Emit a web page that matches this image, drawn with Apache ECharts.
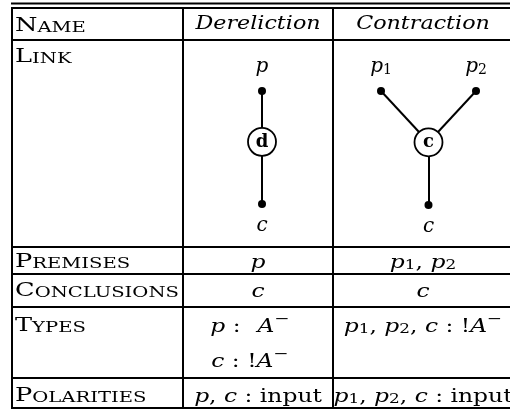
<!DOCTYPE html>
<html>
<head>
<meta charset="utf-8">
<script src="https://cdn.jsdelivr.net/npm/echarts@6/dist/echarts.min.js"></script>
<style>
  html, body { margin: 0; padding: 0; background: #fff; }
  #chart { width: 510px; height: 410px; }
</style>
</head>
<body>
<div id="chart"></div>
<script>
// table contents
const rowNames = ['Name', 'Link', 'Premises', 'Conclusions', 'Types', 'Polarities']
const ruleNames = ['Dereliction', 'Contraction']
// cell text, one entry per line, math as rich-text tokens
const premisesCells = [['{m|p}'], ['{m|p}{sub|1}{r|, }{m|p}{sub|2}']]
const conclusionsCells = [['{m|c}'], ['{m|c}']]
const typesCells = [
  ['{m|p}{r| : }{ph|!}{m|A}{sup|−}', '{m|c}{r| : !}{m|A}{sup|−}'],
  ['{m|p}{sub|1}{r|, }{m|p}{sub|2}{r|, }{m|c}{r| : !}{m|A}{sup|−}'],
]
const polaritiesCells = [
  ['{m|p}{r|, }{m|c}{r| : input}'],
  ['{m|p}{sub|1}{r|, }{m|p}{sub|2}{r|, }{m|c}{r| : input}'],
]

// link diagrams: [id, kind, x, y, label, label side] in diagram units
const derelNodes = [
  ['p', 'port', 0, 3, '{lm|p}', 'top'],
  ['d', 'cell', 0, 1.65, '{b|d}', 'inside'],
  ['c', 'port', 0, 0, '{lm|c}', 'bottom'],
]
const derelLinks = [['p', 'd'], ['d', 'c']]
const contrNodes = [
  ['p1', 'port', -1, 3, '{lm|p}{lsub|1}', 'top'],
  ['p2', 'port', 1, 3, '{lm|p}{lsub|2}', 'top'],
  ['k', 'cell', 0, 1.65, '{b|c}', 'inside'],
  ['c', 'port', 0, 0, '{lm|c}', 'bottom'],
]
const contrLinks = [['p1', 'k'], ['p2', 'k'], ['k', 'c']]

// layout of the table (page units)
const colEdges = [12, 183, 333, 511]
const rowEdges = [8, 40, 247, 274, 307, 378, 408]
const textY = [24, 55, 260, 289, 324, 394]
const typesLineGap = 35
const colCenters = [258, 423]
const derelTypesX = 250
// the source picture is stretched sideways, so the text is too
const labelStretch = 1.35
const headStretch = 1.17
const mathStretch = 1.3

const serif = '"DejaVu Serif", "Liberation Serif", serif'
const clear = 'rgba(0,0,0,0)'
const rich = {
  m: { fontFamily: serif, fontStyle: 'italic', fontSize: 18, lineHeight: 24, verticalAlign: 'bottom' },
  r: { fontFamily: serif, fontSize: 18, lineHeight: 24, verticalAlign: 'bottom' },
  ph: { fontFamily: serif, fontSize: 18, lineHeight: 24, verticalAlign: 'bottom', fill: clear, color: clear },
  sub: { fontFamily: serif, fontSize: 13, lineHeight: 15, verticalAlign: 'bottom' },
  sup: { fontFamily: serif, fontSize: 14, lineHeight: 12, verticalAlign: 'top' },
  lm: { fontFamily: serif, fontStyle: 'italic', fontSize: 20, lineHeight: 24, verticalAlign: 'bottom' },
  lsub: { fontFamily: serif, fontSize: 14, lineHeight: 15, verticalAlign: 'bottom' },
  h: { fontFamily: serif, fontStyle: 'italic', fontSize: 19, lineHeight: 24 },
  sc1: { fontFamily: serif, fontSize: 19, lineHeight: 24, verticalAlign: 'bottom' },
  sc2: { fontFamily: serif, fontSize: 14.5, lineHeight: 21, verticalAlign: 'bottom' },
  b: { fontFamily: serif, fontWeight: 'bold', fontSize: 18 },
}
const smallCaps = s => '{sc1|' + s[0] + '}{sc2|' + s.slice(1).toUpperCase() + '}'

const cellTexts = [
  ruleNames.map(n => ['{h|' + n + '}']),
  null,
  premisesCells,
  conclusionsCells,
  typesCells,
  polaritiesCells,
]

const chart = echarts.init(document.getElementById('chart'))

function nodeItem(n) {
  const [id, kind, x, y, label, side] = n
  const port = kind === 'port'
  return {
    name: id,
    value: [x, y],
    symbol: 'circle',
    symbolSize: port ? 8 : 28,
    itemStyle: port
      ? { color: '#000' }
      : { color: '#fff', borderColor: '#000', borderWidth: 1.8 },
    label: {
      show: true,
      formatter: label,
      position: side,
      distance: side === 'top' ? 10 : 4,
      color: '#000',
      rich: rich,
    },
  }
}

function diagram(nodes, links, axis) {
  return {
    type: 'graph',
    coordinateSystem: 'cartesian2d',
    xAxisIndex: axis,
    yAxisIndex: axis,
    silent: true,
    data: nodes.map(nodeItem),
    links: links.map(([s, t]) => ({ source: s, target: t })),
    lineStyle: { color: '#000', width: 2, opacity: 1 },
  }
}

function renderRow(params, api) {
  const i = api.value(0)
  const pt = (x, y) => api.coord([x, y])
  const children = []
  const line = (x1, y1, x2, y2) => {
    const a = pt(x1, y1)
    const b = pt(x2, y2)
    children.push({
      type: 'line',
      shape: { x1: a[0], y1: a[1], x2: b[0], y2: b[1] },
      style: { stroke: '#000', lineWidth: 2 },
    })
  }
  const text = (x, y, str, align, sx) => {
    const p = pt(x, y)
    children.push({
      type: 'text',
      x: p[0],
      y: p[1],
      scaleX: sx,
      style: { text: str, rich: rich, fill: '#000', align: align, verticalAlign: 'middle' },
    })
  }
  const top = rowEdges[i]
  const bottom = rowEdges[i + 1]
  const right = colEdges[3]
  if (i === 0) {
    line(colEdges[0] - 1, top - 4.5, right, top - 4.5)
    line(colEdges[0] - 1, top, right, top)
  }
  line(colEdges[0] - 1, bottom, right, bottom)
  for (let c = 0; c < 3; c++) line(colEdges[c], top, colEdges[c], bottom)
  text(colEdges[0] + 3, textY[i], smallCaps(rowNames[i]), 'left', labelStretch)
  const cells = cellTexts[i]
  if (cells) {
    cells.forEach((lines, c) => {
      let cx = colCenters[c]
      if (i === 4 && c === 0) cx = derelTypesX
      const sx = i === 0 ? headStretch : mathStretch
      lines.forEach((s, k) => text(cx, textY[i] + k * typesLineGap, s, 'center', sx))
    })
  }
  return { type: 'group', children: children }
}

const option = {
  animation: false,
  grid: [
    { left: 0, top: 0, width: 510, height: 410 },
    { left: 212, top: 91, width: 100, height: 113 },
    { left: 381, top: 91, width: 95, height: 114 },
  ],
  xAxis: [
    { type: 'value', min: 0, max: 510, show: false, gridIndex: 0 },
    { type: 'value', min: -1, max: 1, show: false, gridIndex: 1 },
    { type: 'value', min: -1, max: 1, show: false, gridIndex: 2 },
  ],
  yAxis: [
    { type: 'value', min: 0, max: 410, inverse: true, show: false, gridIndex: 0 },
    { type: 'value', min: 0, max: 3, show: false, gridIndex: 1 },
    { type: 'value', min: 0, max: 3, show: false, gridIndex: 2 },
  ],
  series: [
    {
      type: 'custom',
      silent: true,
      xAxisIndex: 0,
      yAxisIndex: 0,
      data: rowNames.map((n, i) => [i, 0]),
      renderItem: renderRow,
    },
    diagram(derelNodes, derelLinks, 1),
    diagram(contrNodes, contrLinks, 2),
  ],
}
chart.setOption(option)
</script>
</body>
</html>
